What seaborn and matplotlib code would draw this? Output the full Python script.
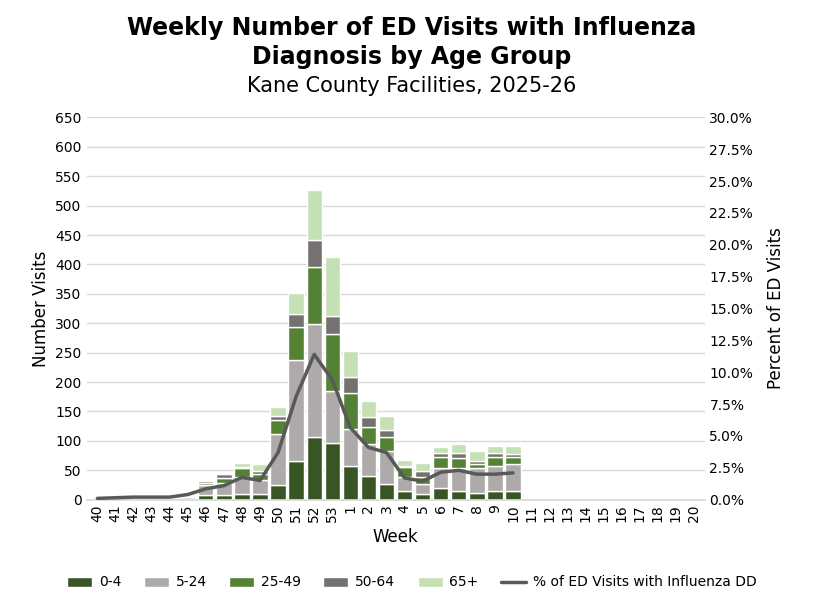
import numpy as np
import pandas as pd
import matplotlib
matplotlib.use("Agg")
import matplotlib.pyplot as plt
import seaborn as sns
from matplotlib.ticker import PercentFormatter

# ---- data ----
weeks = [str(w) for w in list(range(40, 54)) + list(range(1, 21))]
age_0_4 = [0, 0, 0, 0, 0, 1, 8, 8, 9, 9, 25, 65, 106, 97, 57, 41, 27, 15, 9, 19, 15, 12, 15, 14] + [0] * 10
age_5_24 = [1, 1, 1, 1, 1, 3, 17, 21, 29, 25, 87, 172, 192, 88, 63, 53, 55, 24, 18, 34, 38, 41, 43, 46] + [0] * 10
age_25_49 = [0, 4, 2, 0, 0, 0, 4, 7, 15, 9, 23, 56, 97, 96, 61, 29, 24, 17, 12, 19, 17, 8, 15, 13] + [0] * 10
age_50_64 = [0, 0, 0, 0, 0, 0, 2, 7, 2, 6, 8, 23, 46, 31, 27, 17, 12, 2, 9, 7, 10, 5, 7, 4] + [0] * 10
age_65 = [0, 1, 2, 1, 1, 0, 2, 3, 7, 11, 15, 36, 85, 101, 44, 27, 25, 10, 15, 10, 15, 17, 12, 14] + [0] * 10
pct_flu = [0.1, 0.15, 0.2, 0.2, 0.2, 0.4, 0.85, 1.1, 1.75, 1.5, 3.7, 8.1, 11.4, 9.4,
           5.65, 4.1, 3.7, 1.7, 1.45, 2.15, 2.3, 2.0, 2.0, 2.1] + [np.nan] * 10

groups = ["0-4", "5-24", "25-49", "50-64", "65+"]
colors = ["#375623", "#AEAAAA", "#548235", "#767171", "#C5E0B4"]
series = [age_0_4, age_5_24, age_25_49, age_50_64, age_65]

sns.set_theme(style="white")
plt.rcParams["font.family"] = ["DejaVu Sans"]
for k in ["text.color", "axes.labelcolor", "xtick.color", "ytick.color"]:
    plt.rcParams[k] = "black"

fig, ax = plt.subplots(figsize=(8.24, 6.02), dpi=100)
fig.subplots_adjust(left=0.105, right=0.855, top=0.805, bottom=0.17)

x = np.arange(len(weeks))
bottom = np.zeros(len(weeks))
for name, vals, c in zip(groups, series, colors):
    ax.bar(x, vals, bottom=bottom, width=0.85, color=c, label=name, zorder=2)
    bottom += np.array(vals)

ax.set_ylim(0, 650)
ax.set_yticks(range(0, 651, 50))
ax.set_xlim(-0.6, len(weeks) - 0.4)
ax.set_xticks(x)
ax.set_xticklabels(weeks, rotation=90, fontsize=10)
ax.tick_params(axis="y", labelsize=10, length=0)
ax.tick_params(axis="x", length=0)
ax.yaxis.grid(True, color="#D9D9D9", lw=1, zorder=0)
for s in ax.spines.values():
    s.set_visible(False)
ax.spines["bottom"].set_visible(True)
ax.spines["bottom"].set_color("#D9D9D9")
ax.set_xlabel("Week", fontsize=12)
ax.set_ylabel("Number Visits", fontsize=12)

ax2 = ax.twinx()
line_df = pd.DataFrame({"x": x, "pct": pct_flu})
sns.lineplot(data=line_df, x="x", y="pct", ax=ax2, color="#595959", lw=2.5,
             label="% of ED Visits with Influenza DD", legend=False)
ax2.set_ylim(0, 30)
ax2.set_yticks(np.arange(0, 30.1, 2.5))
ax2.yaxis.set_major_formatter(PercentFormatter(decimals=1))
ax2.tick_params(axis="y", labelsize=10, length=0)
ax2.set_ylabel("Percent of ED Visits", fontsize=12, labelpad=10)
ax2.set_xlabel("")
for s in ax2.spines.values():
    s.set_visible(False)

h1, l1 = ax.get_legend_handles_labels()
h2, l2 = ax2.get_legend_handles_labels()
fig.legend(h1 + h2, l1 + l2, loc="lower center", ncol=6, frameon=False,
           fontsize=10, bbox_to_anchor=(0.5, 0.0), handlelength=1.8,
           handletextpad=0.5, columnspacing=1.6)

fig.text(0.5, 0.953, "Weekly Number of ED Visits with Influenza", ha="center",
         va="center", fontsize=17, fontweight="bold")
fig.text(0.5, 0.905, "Diagnosis by Age Group", ha="center",
         va="center", fontsize=17, fontweight="bold")
fig.text(0.5, 0.857, "Kane County Facilities, 2025-26", ha="center", va="center", fontsize=15)

fig.savefig("out.png", dpi=100)
